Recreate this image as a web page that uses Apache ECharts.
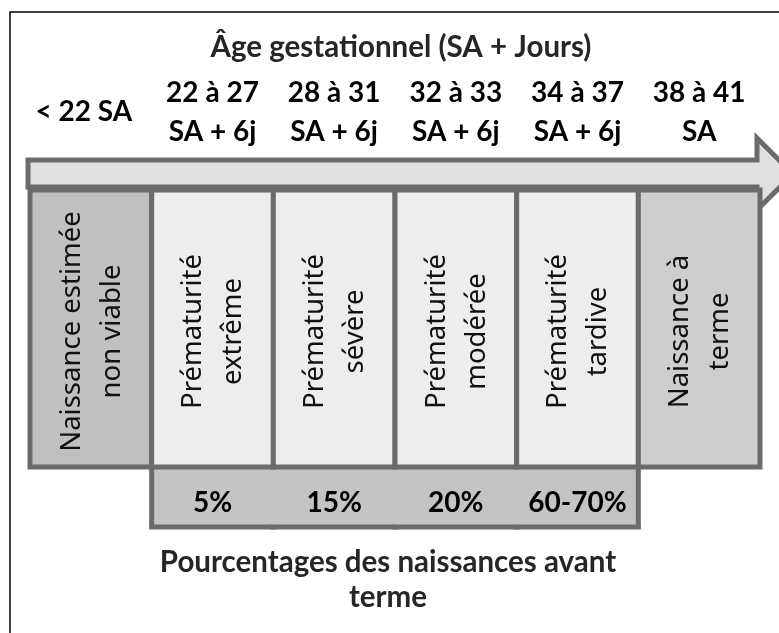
<!DOCTYPE html>
<html>
<head>
<meta charset="utf-8">
<script src="https://cdn.jsdelivr.net/npm/echarts@6/dist/echarts.min.js"></script>
<style>
html, body { margin: 0; padding: 0; background: #fff; }
#chart { width: 779px; height: 633px; }
</style>
</head>
<body>
<div id="chart"></div>
<script>
// age ranges (SA = semaines d'aménorrhée)
const ageRanges = ['< 22 SA', '22 à 27\nSA + 6j', '28 à 31\nSA + 6j', '32 à 33\nSA + 6j', '34 à 37\nSA + 6j', '38 à 41\nSA'];
const stages = ['Naissance estimée\nnon viable', 'Prématurité\nextrême', 'Prématurité\nsévère', 'Prématurité\nmodérée', 'Prématurité\ntardive', 'Naissance à\nterme'];
const stageKind = ['viable', 'premature', 'premature', 'premature', 'premature', 'terme'];
// share of preterm births, per column index
const shareIndex = [1, 2, 3, 4];
const shareLabels = ['5%', '15%', '20%', '60-70%'];

const title = 'Âge gestationnel (SA + Jours)';
const footer = 'Pourcentages des naissances avant\nterme';

const fills = { viable: '#c0c0c0', premature: '#ededed', terme: '#cecece' };
const edge = '#6b6b6b';

function renderArrow(params, api) {
    const cs = params.coordSys;
    const x0 = cs.x - 2, x1 = cs.x + cs.width - 3, tip = x1 + 36;
    const t = cs.y;
    return {
        type: 'polygon',
        shape: { points: [[x0, t - 30], [x1, t - 30], [x1, t - 52], [tip, t - 16], [x1, t + 20], [x1, t - 3], [x0, t - 3]] },
        style: { fill: '#e0e0e0', stroke: edge, lineWidth: 5, lineJoin: 'miter' }
    };
}

function renderShare(params, api) {
    const i = api.value(0);
    const c = api.coord([i, 0]);
    const w = api.size([1, 0])[0];
    const left = c[0] - w / 2, right = c[0] + w / 2;
    const top = c[1], bottom = c[1] + 60;
    const kids = [
        { type: 'rect', shape: { x: left - 1, y: top, width: w + 2, height: bottom - top }, style: { fill: '#c4c4c4' } },
        { type: 'line', shape: { x1: left - 2.5, y1: bottom, x2: right + 2.5, y2: bottom }, style: { stroke: edge, lineWidth: 5 } },
        {
            type: 'text', x: c[0], y: top + 36,
            style: { text: shareLabels[params.dataIndex], fontFamily: 'Lato', fontWeight: 'bold', fontSize: 28, fill: '#000', align: 'center', verticalAlign: 'middle' }
        }
    ];
    if (params.dataIndex === 0) kids.push({ type: 'line', shape: { x1: left, y1: top, x2: left, y2: bottom }, style: { stroke: edge, lineWidth: 5 } });
    if (params.dataIndex === shareIndex.length - 1) kids.push({ type: 'line', shape: { x1: right, y1: top, x2: right, y2: bottom }, style: { stroke: edge, lineWidth: 5 } });
    return { type: 'group', children: kids };
}

function renderStage(params, api) {
    const i = api.value(0);
    const top = api.coord([i, 1]);
    const bot = api.coord([i, 0]);
    const w = api.size([1, 0])[0];
    return {
        type: 'group',
        children: [
            {
                type: 'rect',
                shape: { x: top[0] - w / 2, y: top[1], width: w, height: bot[1] - top[1] },
                style: { fill: fills[stageKind[i]], stroke: edge, lineWidth: 5 }
            },
            {
                type: 'text', x: top[0] + 1, y: (top[1] + bot[1]) / 2 + 3, rotation: Math.PI / 2,
                style: { text: stages[i], fontFamily: 'Noto Sans', fontSize: 27.5, lineHeight: 40, fill: '#111', align: 'center', verticalAlign: 'middle' }
            }
        ]
    };
}

// first header sits a little left of its column centre
const labelStyle = {
    verticalAlign: 'middle', fontFamily: 'Lato', fontWeight: 'bold', fontSize: 28, lineHeight: 39, color: '#000'
};
const axisData = ageRanges.map((v, i) => i === 0 ? { value: v, textStyle: Object.assign({ padding: [0, 14, 0, 0] }, labelStyle) } : v);

const chart = echarts.init(document.getElementById('chart'), null, { renderer: 'canvas' });
chart.setOption({
    backgroundColor: '#fff',
    animation: false,
    grid: { left: 30, right: 19, top: 190, bottom: 166 },
    xAxis: {
        type: 'category',
        position: 'top',
        data: axisData,
        axisLine: { show: false },
        axisTick: { show: false },
        splitLine: { show: false },
        axisLabel: Object.assign({ interval: 0, margin: 78 }, labelStyle)
    },
    yAxis: { type: 'value', min: 0, max: 1, show: false },
    graphic: [
        { type: 'rect', shape: { x: 10, y: 12, width: 800, height: 700 }, style: { fill: 'none', stroke: '#000', lineWidth: 1.5 }, z: 100 },
        { type: 'text', x: 401, y: 47, style: { text: title, fontFamily: 'Lato', fontWeight: 'bold', fontSize: 29.5, fill: '#262626', align: 'center', verticalAlign: 'middle' } },
        { type: 'text', x: 388, y: 545, style: { text: footer, fontFamily: 'Lato', fontWeight: 'bold', fontSize: 29.5, lineHeight: 35, fill: '#262626', align: 'center', verticalAlign: 'top' } }
    ],
    series: [
        { type: 'custom', name: 'arrow', z: 1, renderItem: renderArrow, data: [[0, 1]], silent: true },
        { type: 'custom', name: 'share', z: 2, renderItem: renderShare, data: shareIndex.map(i => [i, 0]), silent: true },
        { type: 'custom', name: 'stages', z: 3, renderItem: renderStage, data: stages.map((s, i) => [i, 1]), silent: true }
    ]
});
</script>
</body>
</html>
